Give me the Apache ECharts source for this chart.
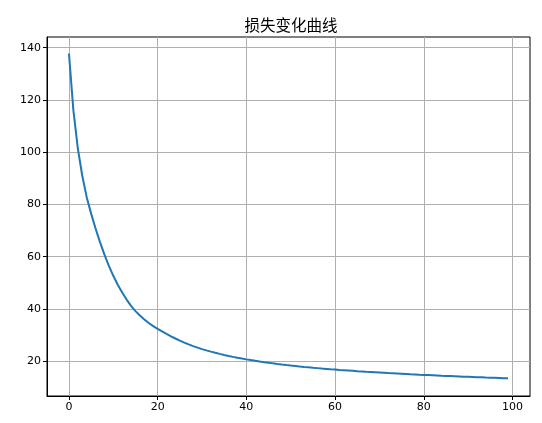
<!DOCTYPE html>
<html>
<head>
<meta charset="utf-8">
<script src="https://cdn.jsdelivr.net/npm/echarts@6/dist/echarts.min.js"></script>
<style>
html,body{margin:0;padding:0;background:#fff;}
#chart{width:542px;height:423px;}
</style>
</head>
<body>
<div id="chart"></div>
<script>
const titleText = "损失变化曲线";
const epochs = Array.from({length: 100}, (_, i) => i);
const lossValues = [
  137.8, 116.0, 101.5, 91.0, 82.8, 76.5, 70.8, 65.6, 60.8, 56.5,
  52.7, 49.3, 46.3, 43.6, 41.2, 39.2, 37.5, 36.0, 34.65, 33.45,
  32.4, 31.4, 30.45, 29.55, 28.7, 27.9, 27.15, 26.45, 25.8, 25.2,
  24.65, 24.15, 23.68, 23.24, 22.82, 22.42, 22.04, 21.68, 21.34, 21.02,
  20.72, 20.44, 20.17, 19.91, 19.66, 19.42, 19.19, 18.97, 18.76, 18.56,
  18.37, 18.19, 18.01, 17.84, 17.68, 17.52, 17.37, 17.22, 17.08, 16.94,
  16.81, 16.68, 16.56, 16.44, 16.32, 16.20, 16.09, 15.98, 15.88, 15.78,
  15.68, 15.58, 15.48, 15.39, 15.30, 15.21, 15.12, 15.03, 14.95, 14.86,
  14.78, 14.70, 14.62, 14.54, 14.46, 14.39, 14.32, 14.25, 14.18, 14.11,
  14.04, 13.97, 13.90, 13.83, 13.76, 13.70, 13.64, 13.58, 13.52, 13.46
];
const xTicks = [0, 20, 40, 60, 80, 100];
const yTicks = [20, 40, 60, 80, 100, 120, 140];

const xMin = -4.95, xMax = 103.95;
const yMin = 6.7, yMax = 144.1;

const chart = echarts.init(document.getElementById('chart'), null, {renderer: 'canvas'});
const labelFont = 'DejaVu Sans, sans-serif';
chart.setOption({
  animation: false,
  backgroundColor: '#ffffff',
  title: {
    text: titleText,
    left: 286, top: 12, textAlign: 'center',
    textStyle: {fontFamily: '"Noto Sans CJK SC", sans-serif', fontSize: 15.5, fontWeight: 'normal', color: '#000'}
  },
  grid: {
    left: 47, right: 12, top: 37, bottom: 27,
    show: true, borderColor: '#000', borderWidth: 1, backgroundColor: 'transparent'
  },
  xAxis: {
    type: 'value', min: xMin, max: xMax,
    axisLine: {show: true, onZero: false, lineStyle: {color: '#000', width: 1}},
    axisTick: {show: true, inside: false, length: 4, customValues: xTicks, lineStyle: {color: '#000'}},
    axisLabel: {customValues: xTicks, color: '#000', fontSize: 11, margin: 6, fontFamily: labelFont},
    splitLine: {show: true, lineStyle: {color: '#b0b0b0', width: 1}}
  },
  yAxis: {
    type: 'value', min: yMin, max: yMax,
    axisLine: {show: true, onZero: false, lineStyle: {color: '#000', width: 1}},
    axisTick: {show: true, inside: false, length: 4, customValues: yTicks, lineStyle: {color: '#000'}},
    axisLabel: {customValues: yTicks, color: '#000', fontSize: 11, margin: 6, fontFamily: labelFont},
    splitLine: {show: true, lineStyle: {color: '#b0b0b0', width: 1}}
  },
  series: [{
    type: 'line',
    data: epochs.map((e, i) => [e, lossValues[i]]),
    showSymbol: false,
    symbol: 'none',
    lineStyle: {color: '#1f77b4', width: 2},
    z: 3
  }]
});
</script>
</body>
</html>
